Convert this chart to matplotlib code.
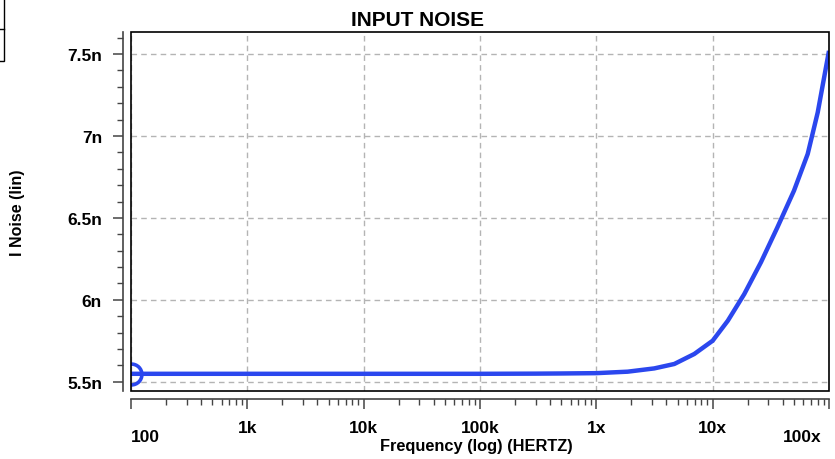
import matplotlib
matplotlib.use('Agg')
import matplotlib.pyplot as plt
from matplotlib.ticker import FixedLocator, FuncFormatter, LogLocator, MultipleLocator
from matplotlib.patches import Rectangle
from matplotlib.transforms import ScaledTranslation

plt.rcParams['font.family'] = ['Liberation Sans', 'DejaVu Sans']

# frequency (Hz) and input noise current (nA)
freq = [1e2, 1e3, 1e4, 1e5, 3e5, 5e5, 1e6, 1.86e6, 3.15e6, 4.68e6, 6.95e6,
        1e7, 1.35e7, 1.87e7, 2.6e7, 3.6e7, 5e7, 6.56e7, 8e7, 1e8]
noise_n = [5.548, 5.548, 5.548, 5.548, 5.549, 5.550, 5.552, 5.561, 5.581, 5.608, 5.669,
           5.750, 5.872, 6.035, 6.229, 6.442, 6.666, 6.890, 7.144, 7.52]
noise = [v * 1e-9 for v in noise_n]

x_ticks = [1e2, 1e3, 1e4, 1e5, 1e6, 1e7, 1e8]
x_tick_labels = ['100', '1k', '10k', '100k', '1x', '10x', '100x']
y_ticks = [5.5e-9, 6e-9, 6.5e-9, 7e-9, 7.5e-9]

fig = plt.figure(figsize=(8.35, 4.6), dpi=100)
ax = fig.add_axes([131 / 835, 1 - 392 / 460, 698 / 835, 359 / 460])

ax.plot(freq, noise, color='#2b47ee', lw=3.2, solid_capstyle='butt')
ax.plot(freq[0], noise[0], 'o', ms=15, mfc='none', mec='#2b47ee', mew=2.6)

ax.set_xscale('log')
ax.set_xlim(1e2, 1e8)
ax.set_ylim(5.443e-9, 7.635e-9)

# grid
ax.xaxis.set_major_locator(FixedLocator(x_ticks))
ax.xaxis.set_minor_locator(LogLocator(base=10, subs=range(2, 10), numticks=20))
ax.yaxis.set_major_locator(FixedLocator(y_ticks))
ax.yaxis.set_minor_locator(MultipleLocator(0.1e-9))
ax.grid(True, which='major', color='#b4b4b4', lw=1.0, ls=(0, (4, 3)))

ax.xaxis.set_major_formatter(FuncFormatter(lambda v, p: x_tick_labels[x_ticks.index(v)] if v in x_ticks else ''))
ax.yaxis.set_major_formatter(FuncFormatter(lambda v, p: f'{v * 1e9:g}n'))

# separate tick axes, frame box drawn on its own
for s in ['top', 'right']:
    ax.spines[s].set_visible(False)
for s in ['left', 'bottom']:
    ax.spines[s].set_position(('outward', 5.8))
    ax.spines[s].set_color('#444444')
    ax.spines[s].set_linewidth(1.2)
ax.add_patch(Rectangle((0, 0), 1, 1, transform=ax.transAxes, fill=False,
                       ec='black', lw=1.2, clip_on=False, zorder=5))

ax.tick_params(which='major', direction='out', length=7.5, width=1.1, color='#444444', pad=7.5)
ax.tick_params(which='minor', direction='out', length=4, width=1.0, color='#444444')
for t in ax.get_xticklabels() + ax.get_yticklabels():
    t.set_fontweight('bold')
    t.set_fontsize(12.5)

fig.canvas.draw()
xl = ax.get_xticklabels()
xl[0].set_horizontalalignment('left')
xl[0].set_transform(xl[0].get_transform() + ScaledTranslation(0, -9 / 100, fig.dpi_scale_trans))
xl[-1].set_horizontalalignment('right')
xl[-1].set_transform(xl[-1].get_transform() + ScaledTranslation(-7 / 100, -9 / 100, fig.dpi_scale_trans))

ax.set_xlabel('Frequency (log) (HERTZ)', fontsize=11.8, fontweight='bold', va='center')
ax.xaxis.set_label_coords(0.495, -(447 - 392) / 359)
ax.set_ylabel('I Noise (lin)', fontsize=11.5, fontweight='bold', va='center')
ax.yaxis.set_label_coords(-(131 - 18) / 698, 0.5)

fig.text(0.5, 1 - 20 / 460, 'INPUT NOISE', ha='center', va='center',
         fontsize=15, fontweight='bold')

# clipped frame at the top-left corner of the page
fig.patches.append(Rectangle((-0.05, 1 - 62 / 460), 0.05 + 3.5 / 835, 0.2,
                             transform=fig.transFigure, fill=False, ec='black', lw=1.0))
fig.lines.append(plt.Line2D([0, 3.5 / 835], [1 - 30 / 460] * 2, transform=fig.transFigure,
                            color='black', lw=1.0))

fig.savefig('out.png', dpi=100)
